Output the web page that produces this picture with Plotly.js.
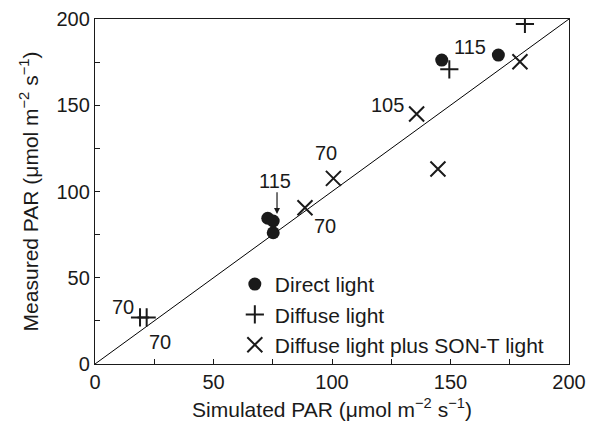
<!DOCTYPE html>
<html><head><meta charset="utf-8">
<script src="https://cdn.plot.ly/plotly-3.0.1.min.js"></script>
<style>body{margin:0;background:#fff}#c{width:590px;height:425px}</style>
</head><body><div id="c"></div>
<script>
const directX = [72.9, 75.2, 75.2, 146.3, 170.2];
const directY = [84.5, 82.9, 76.1, 176.2, 179.1];
const diffuseX = [19.0, 21.8, 149.5, 181.4];
const diffuseY = [27.0, 27.0, 170.8, 197.1];
const sontX = [88.6, 100.6, 135.7, 144.7, 179.3];
const sontY = [90.6, 107.6, 144.9, 113.0, 175.2];
const lineX = [0, 200];
const lineY = [0, 200];
const labelText = ["115", "105", "70", "70", "70", "70"];
const labelX = [158.2, 123.6, 97.5, 97.0, 11.8, 27.4];
const labelY = [183.8, 150.1, 122.3, 80.0, 33.0, 12.8];
const arrowLabel = "115";
const arrowTextX = 75.9, arrowTextY = 106.1;
const arrowX = 76.8, arrowFromY = 100.5, arrowToY = 87.0;

const F = "Liberation Sans, Arial, Helvetica, sans-serif";
const FS = 20, FT = 21;
const traces = [
  {x: lineX, y: lineY, mode: 'lines', line: {color: '#000', width: 1}, showlegend: false, hoverinfo: 'skip'},
  {x: directX, y: directY, mode: 'markers', name: 'Direct light', legendgroup: 'a',
   marker: {symbol: 'circle', size: 13, color: '#1a1a1a'}},
  {x: diffuseX, y: diffuseY, mode: 'markers', name: 'Diffuse light', legendgroup: 'b',
   marker: {symbol: 'cross-thin', size: 13, line: {color: '#1a1a1a', width: 2}}},
  {x: sontX, y: sontY, mode: 'markers', name: 'Diffuse light plus SON-T light', legendgroup: 'c',
   marker: {symbol: 'x-thin', size: 15, line: {color: '#1a1a1a', width: 2}}}
];
const ann = labelText.map((t, i) => ({x: labelX[i], y: labelY[i], text: t, showarrow: false,
  font: {family: F, size: FS, color: '#1a1a1a'}, xanchor: 'center', yanchor: 'middle'}));
ann.push({x: arrowTextX, y: arrowTextY, text: arrowLabel, showarrow: false,
  font: {family: F, size: FS, color: '#1a1a1a'}, xanchor: 'center', yanchor: 'middle'});
ann.push({x: arrowX, y: arrowToY, ax: arrowX, ay: arrowFromY, axref: 'x', ayref: 'y', text: '',
  showarrow: true, arrowhead: 2, arrowsize: 1, arrowwidth: 1.2, arrowcolor: '#1a1a1a', standoff: 0});
const axBase = {range: [0, 200], tickvals: [0, 50, 100, 150, 200], showgrid: false, zeroline: false,
  showline: true, linecolor: '#1a1a1a', linewidth: 1.2, mirror: true, ticks: 'inside', ticklen: 5,
  tickcolor: '#1a1a1a', tickfont: {family: F, size: FS, color: '#1a1a1a'},
  minor: {tickvals: [25, 75, 125, 175], ticks: 'inside', ticklen: 5, tickcolor: '#1a1a1a'}};
const layout = {
  width: 590, height: 425, margin: {l: 95, r: 21, t: 19, b: 61},
  paper_bgcolor: '#fff', plot_bgcolor: '#fff',
  xaxis: Object.assign({}, axBase, {title: {text: 'Simulated PAR (μmol m<sup>−2</sup> s<sup>−1</sup>)',
    font: {family: F, size: FT, color: '#1a1a1a'}, standoff: 10}}),
  yaxis: Object.assign({}, axBase, {title: {text: 'Measured PAR (μmol m<sup>−2</sup> s<sup>−1</sup>)',
    font: {family: F, size: FT, color: '#1a1a1a'}, standoff: 12}}),
  showlegend: true,
  legend: {x: 0.295, y: 0.29, xanchor: 'left', yanchor: 'top', bgcolor: 'rgba(0,0,0,0)',
    font: {family: F, size: FT, color: '#1a1a1a'}, tracegroupgap: 0, itemwidth: 30},
  annotations: ann
};
Plotly.newPlot('c', traces, layout, {displayModeBar: false, staticPlot: true});
</script></body></html>
